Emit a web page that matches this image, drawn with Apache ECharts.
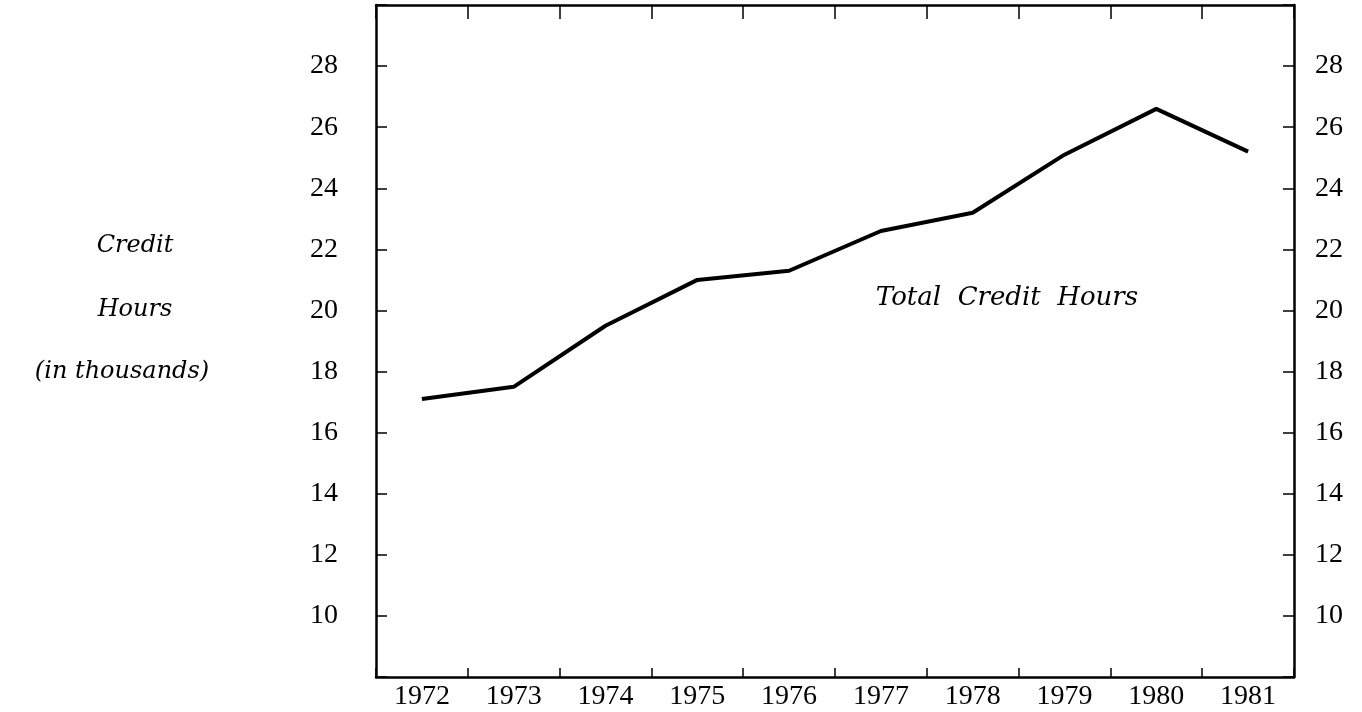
<!DOCTYPE html>
<html>
<head>
<meta charset="utf-8">
<script src="https://cdn.jsdelivr.net/npm/echarts@6/dist/echarts.min.js"></script>
<style>
html,body{margin:0;padding:0;background:#fff;}
#chart{width:1362px;height:712px;}
</style>
</head>
<body>
<div id="chart"></div>
<script>
const years = ['1972','1973','1974','1975','1976','1977','1978','1979','1980','1981'];
const creditHours = [17.1, 17.5, 19.5, 21.0, 21.3, 22.6, 23.2, 25.1, 26.6, 25.2];
const seriesName = 'Total Credit Hours';
const axisTitleLines = ['Credit', 'Hours', '(in thousands)'];

const chart = echarts.init(document.getElementById('chart'), null, {renderer: 'canvas'});
const labelFont = 'Liberation Serif';
const italicFont = 'DejaVu Serif';
const lineStyle = {color: '#000', width: 2.5};

const yLabelFmt = v => (v === 8 || v === 30) ? '' : String(v);

const option = {
  backgroundColor: '#fff',
  animation: false,
  grid: {left: 376, right: 68, top: 5, bottom: 35, containLabel: false},
  xAxis: [
    {
      type: 'category', data: years, boundaryGap: true, position: 'bottom',
      axisLine: {show: true, lineStyle: lineStyle},
      axisTick: {show: true, inside: true, length: 9, lineStyle: {color: '#000', width: 1.5}},
      axisLabel: {color: '#000', fontFamily: labelFont, fontSize: 28, margin: 6},
      splitLine: {show: false}
    },
    {
      type: 'category', data: years, boundaryGap: true, position: 'top',
      axisLine: {show: true, lineStyle: lineStyle},
      axisTick: {show: true, inside: true, length: 14, lineStyle: {color: '#000', width: 1.5}},
      axisLabel: {show: false},
      splitLine: {show: false}
    }
  ],
  yAxis: [
    {
      type: 'value', min: 8, max: 30, interval: 2, position: 'left',
      axisLine: {show: true, lineStyle: lineStyle},
      axisTick: {show: true, inside: true, length: 11, lineStyle: {color: '#000', width: 1.5}},
      axisLabel: {color: '#000', fontFamily: labelFont, fontSize: 28, margin: 38, formatter: yLabelFmt},
      splitLine: {show: false}
    },
    {
      type: 'value', min: 8, max: 30, interval: 2, position: 'right',
      axisLine: {show: true, lineStyle: lineStyle},
      axisTick: {show: true, inside: true, length: 11, lineStyle: {color: '#000', width: 1.5}},
      axisLabel: {color: '#000', fontFamily: labelFont, fontSize: 28, margin: 21, formatter: yLabelFmt},
      splitLine: {show: false}
    }
  ],
  series: [{
    name: seriesName,
    type: 'line',
    data: creditHours,
    xAxisIndex: 0, yAxisIndex: 0,
    symbol: 'none',
    lineStyle: {color: '#000', width: 4},
    z: 5
  }],
  graphic: [
    {type: 'text', x: 1007, y: 298,
     style: {text: 'Total  Credit  Hours', font: 'italic 26px "' + italicFont + '"', fill: '#000', align: 'center', verticalAlign: 'middle'}},
    {type: 'text', x: 135, y: 246,
     style: {text: axisTitleLines[0], font: 'italic 24px "' + italicFont + '"', fill: '#000', align: 'center', verticalAlign: 'middle'}},
    {type: 'text', x: 135, y: 310,
     style: {text: axisTitleLines[1], font: 'italic 24px "' + italicFont + '"', fill: '#000', align: 'center', verticalAlign: 'middle'}},
    {type: 'text', x: 122, y: 372,
     style: {text: axisTitleLines[2], font: 'italic 24px "' + italicFont + '"', fill: '#000', align: 'center', verticalAlign: 'middle'}}
  ]
};
chart.setOption(option);
</script>
</body>
</html>
